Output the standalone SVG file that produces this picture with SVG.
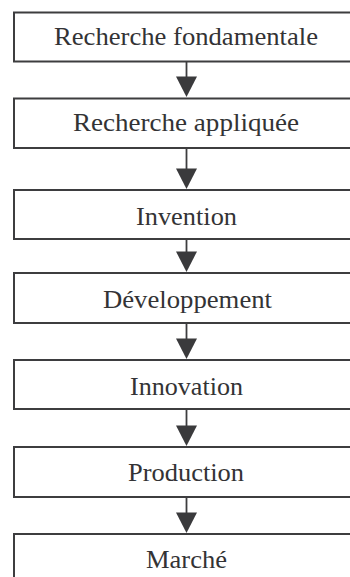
<svg xmlns="http://www.w3.org/2000/svg" width="350" height="577" viewBox="0 0 350 577">
<style>
.box{fill:#fff;stroke:#3d3d3f;stroke-width:2}
.lbl{font-family:"Liberation Serif",serif;font-size:25px;fill:#333335;text-anchor:middle}
.ln{stroke:#3d3d3f;stroke-width:1.8;fill:none}
.hd{fill:#3a3a3c;stroke:none}
</style>
<rect width="350" height="577" fill="#fff"/>
<g id="connectors">
<line class="ln" x1="186.5" y1="62" x2="186.5" y2="77"/><polygon class="hd" points="176,76.5 197,76.5 186.5,97"/>
<line class="ln" x1="186.5" y1="149" x2="186.5" y2="169"/><polygon class="hd" points="176,168.5 197,168.5 186.5,189"/>
<line class="ln" x1="186.5" y1="240" x2="186.5" y2="252"/><polygon class="hd" points="176,251.5 197,251.5 186.5,272"/>
<line class="ln" x1="186.5" y1="324" x2="186.5" y2="339"/><polygon class="hd" points="176,338.5 197,338.5 186.5,359"/>
<line class="ln" x1="186.5" y1="410" x2="186.5" y2="426"/><polygon class="hd" points="176,425.5 197,425.5 186.5,446"/>
<line class="ln" x1="186.5" y1="498" x2="186.5" y2="513"/><polygon class="hd" points="176,512.5 197,512.5 186.5,533"/>
</g>
<g id="n1"><rect class="box" x="14" y="12.5" width="350" height="49"/><text class="lbl" x="186" y="44.5" textLength="264" lengthAdjust="spacingAndGlyphs">Recherche fondamentale</text></g>
<g id="n2"><rect class="box" x="14" y="98.5" width="350" height="49.5"/><text class="lbl" x="186" y="130.5" textLength="226" lengthAdjust="spacingAndGlyphs">Recherche appliquée</text></g>
<g id="n3"><rect class="box" x="14" y="190" width="350" height="49"/><text class="lbl" x="186.5" y="224.5" textLength="101" lengthAdjust="spacingAndGlyphs">Invention</text></g>
<g id="n4"><rect class="box" x="14" y="273" width="350" height="50"/><text class="lbl" x="187.5" y="307.5" textLength="169" lengthAdjust="spacingAndGlyphs">Développement</text></g>
<g id="n5"><rect class="box" x="14" y="360" width="350" height="49"/><text class="lbl" x="186.5" y="394.5" textLength="113" lengthAdjust="spacingAndGlyphs">Innovation</text></g>
<g id="n6"><rect class="box" x="14" y="447" width="350" height="50"/><text class="lbl" x="186" y="480.5" textLength="116" lengthAdjust="spacingAndGlyphs">Production</text></g>
<g id="n7"><rect class="box" x="14" y="534" width="350" height="60"/><text class="lbl" x="186.5" y="567.5" textLength="81" lengthAdjust="spacingAndGlyphs">Marché</text></g>
</svg>
